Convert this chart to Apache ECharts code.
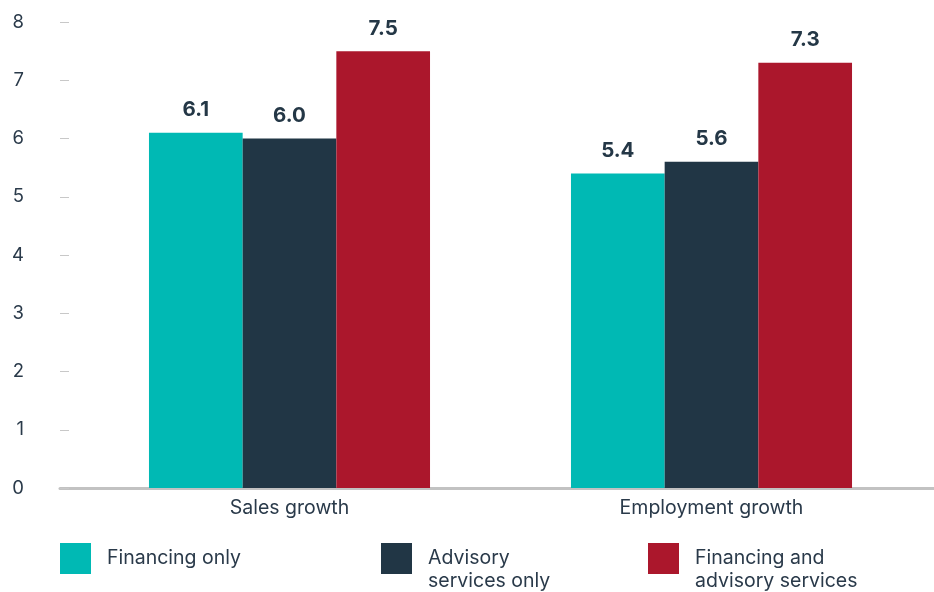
<!DOCTYPE html>
<html>
<head>
<meta charset="utf-8">
<script src="https://cdn.jsdelivr.net/npm/echarts@6/dist/echarts.min.js"></script>
<style>
html,body{margin:0;padding:0;background:#fff;}
#chart{width:934px;height:592px;}
</style>
</head>
<body>
<div id="chart"></div>
<script>
const categories = ['Sales growth', 'Employment growth'];
const seriesNames = ['Financing only', 'Advisory\nservices only', 'Financing and\nadvisory services'];
const financingOnly = [6.1, 5.4];
const advisoryOnly = [6.0, 5.6];
const financingAndAdvisory = [7.5, 7.3];
const yTicks = [0, 1, 2, 3, 4, 5, 6, 7, 8];

const colors = ['#00b9b4', '#213645', '#ab172c'];
const textColor = '#2a3a4a';
const font = 'Inter, "Open Sans", sans-serif';

const chart = echarts.init(document.getElementById('chart'), null, {renderer: 'canvas'});

function barSeries(name, data, color) {
  return {
    name: name,
    type: 'bar',
    data: data,
    barGap: '0%',
    barCategoryGap: '33.4%',
    itemStyle: {color: color},
    label: {
      show: true,
      position: 'top',
      distance: 12,
      formatter: p => p.value.toFixed(1),
      color: '#243746',
      fontFamily: font,
      fontWeight: 'bold',
      fontSize: 20.5
    },
    xAxisIndex: 0,
    yAxisIndex: 0
  };
}

function legend(name, left, top, multi) {
  return {
    data: [name],
    left: left,
    top: top,
    padding: 0,
    icon: 'rect',
    itemWidth: 31,
    itemHeight: 31,
    selectedMode: false,
    formatter: n => multi ? '\n' + n : n,
    textStyle: {
      color: textColor,
      fontFamily: font,
      fontSize: 19.5,
      lineHeight: 23,
      padding: [0, 0, 0, 11]
    }
  };
}

const option = {
  animation: false,
  backgroundColor: '#fff',
  color: colors,
  legend: [
    legend(seriesNames[0], 60, 543, false),
    legend(seriesNames[1], 381, 524, true),
    legend(seriesNames[2], 648, 524, true)
  ],
  grid: [
    {left: 78.5, right: 11.5, top: 22, bottom: 104, containLabel: false},
    {left: 60, right: 0, top: 22, bottom: 104, containLabel: false}
  ],
  xAxis: [
    {
      type: 'category',
      gridIndex: 0,
      data: categories,
      axisLine: {show: false},
      axisTick: {show: false},
      axisLabel: {
        color: textColor,
        fontFamily: font,
        fontSize: 19.5,
        margin: 10
      }
    },
    {
      type: 'category',
      gridIndex: 1,
      data: [''],
      axisLine: {show: true, lineStyle: {color: '#c2c2c2', width: 3}},
      axisTick: {show: false},
      axisLabel: {show: false}
    }
  ],
  yAxis: [
    {
      type: 'value',
      gridIndex: 0,
      min: 0,
      max: 8,
      interval: 1,
      offset: 9.5,
      axisLine: {show: false},
      axisTick: {show: true, length: 9, lineStyle: {color: '#c8c8c8', width: 1}},
      splitLine: {show: false},
      axisLabel: {
        color: textColor,
        fontFamily: font,
        fontSize: 18.5,
        margin: 45,
        formatter: v => yTicks.includes(v) ? String(v) : ''
      }
    },
    {
      type: 'value',
      gridIndex: 1,
      min: 0,
      max: 8,
      show: false
    }
  ],
  series: [
    barSeries(seriesNames[0], financingOnly, colors[0]),
    barSeries(seriesNames[1], advisoryOnly, colors[1]),
    barSeries(seriesNames[2], financingAndAdvisory, colors[2])
  ]
};
chart.setOption(option);
</script>
</body>
</html>
